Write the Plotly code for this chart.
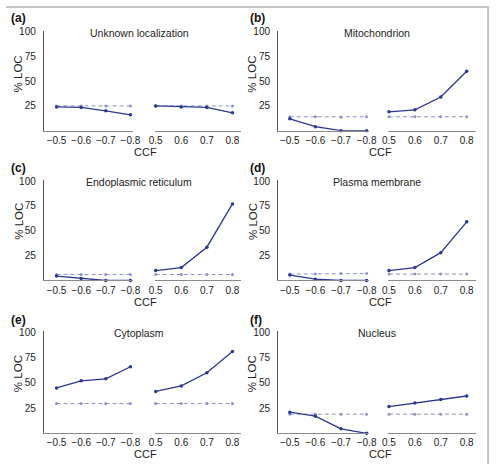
import plotly.graph_objects as go

# ---------------- data ----------------
ccf_neg = [-0.5, -0.6, -0.7, -0.8]
ccf_pos = [0.5, 0.6, 0.7, 0.8]
neg_tick_labels = ["\u22120.5", "\u22120.6", "\u22120.7", "\u22120.8"]
pos_tick_labels = ["0.5", "0.6", "0.7", "0.8"]
y_tick_vals = [25, 50, 75, 100]

letters = ["(a)", "(b)", "(c)", "(d)", "(e)", "(f)"]
titles = ["Unknown localization", "Mitochondrion", "Endoplasmic reticulum",
          "Plasma membrane", "Cytoplasm", "Nucleus"]

unknown_neg = [24, 23.5, 20, 16]
unknown_neg_base = [25, 25, 25, 25]
unknown_pos = [25, 24, 23.5, 18]
unknown_pos_base = [25, 25, 25, 25]

mito_neg = [12, 4, 0, 0]
mito_neg_base = [14, 14, 13.5, 14]
mito_pos = [19, 21, 34, 60]
mito_pos_base = [14, 14, 14, 14]

er_neg = [4.5, 2, 0, 0]
er_neg_base = [6, 6, 6, 6]
er_pos = [10, 13, 33.5, 77]
er_pos_base = [6, 6, 6, 6]

pm_neg = [5.5, 1.3, 0, 0]
pm_neg_base = [6.5, 6.5, 7, 7]
pm_pos = [10, 13, 28, 59]
pm_pos_base = [6.5, 6.5, 6.5, 6.5]

cyto_neg = [45, 52, 54, 66]
cyto_neg_base = [29.5, 29.5, 29.5, 29.5]
cyto_pos = [41.5, 47, 60, 81]
cyto_pos_base = [29.5, 29.5, 29.5, 29.5]

nuc_neg = [21, 17, 4.5, 0]
nuc_neg_base = [19, 19, 19, 19]
nuc_pos = [26.5, 30, 33.5, 37]
nuc_pos_base = [19, 19, 19, 19]

panels = [
    (unknown_neg, unknown_neg_base, unknown_pos, unknown_pos_base),
    (mito_neg, mito_neg_base, mito_pos, mito_pos_base),
    (er_neg, er_neg_base, er_pos, er_pos_base),
    (pm_neg, pm_neg_base, pm_pos, pm_pos_base),
    (cyto_neg, cyto_neg_base, cyto_pos, cyto_pos_base),
    (nuc_neg, nuc_neg_base, nuc_pos, nuc_pos_base),
]

# ---------------- layout geometry (pixels) ----------------
W, H = 499, 464
FONT = "Liberation Sans, Arial, sans-serif"
SOLID = "#2b3890"
DASH = "#8d93c8"
AXIS_Y = "#555555"
AXIS_X = "#8a8a8a"

def fx(px):
    return px / W

def fy(py):
    return 1 - py / H

cols = [
    dict(left=(39, 131), right=(153, 242), lrange=[-0.4487, -0.8118], rrange=[0.4961, 0.8343],
         title_x=137, ylab_x=12.5, ccf_x=144, letter_x=3),
    dict(left=(280, 373), right=(393, 484), lrange=[-0.4544, -0.8076], rrange=[0.4962, 0.8375],
         title_x=382, ylab_x=253.5, ccf_x=385.5, letter_x=249),
]
rows = [
    dict(top=27, bottom=127, letter_y=13, ylab_y=70, ccf_y=149),
    dict(top=178, bottom=278.5, letter_y=165, ylab_y=219, ccf_y=300),
    dict(top=331, bottom=433, letter_y=318, ylab_y=373, ccf_y=454),
]

fig = go.Figure()
layout = dict(
    width=W, height=H,
    margin=dict(l=0, r=0, t=0, b=0),
    paper_bgcolor="white", plot_bgcolor="white",
    showlegend=False,
    font=dict(family=FONT, size=10, color="#222222"),
)
annotations = []

for i, (neg, neg_base, pos, pos_base) in enumerate(panels):
    r, c = divmod(i, 2)
    col, row = cols[c], rows[r]
    ia, ib = 2 * i + 1, 2 * i + 2
    xa_l, ya_l = f"x{ia}", f"y{ia}"
    xa_r, ya_r = f"x{ib}", f"y{ib}"
    ydom = [fy(row["bottom"]), fy(row["top"] - 1)]
    yr = [0, 100 * (row["bottom"] - row["top"] + 1) / (row["bottom"] - row["top"])]

    for xs, ys_base, ys, xa, ya in [(ccf_neg, neg_base, neg, xa_l, ya_l),
                                    (ccf_pos, pos_base, pos, xa_r, ya_r)]:
        fig.add_trace(go.Scatter(
            x=xs, y=ys_base, xaxis=xa, yaxis=ya, mode="lines+markers",
            line=dict(color=DASH, width=1, dash="4px,3px"),
            marker=dict(color=DASH, size=3, symbol="circle"),
            cliponaxis=False, hoverinfo="skip"))
        fig.add_trace(go.Scatter(
            x=xs, y=ys, xaxis=xa, yaxis=ya, mode="lines+markers",
            line=dict(color=SOLID, width=1.3),
            marker=dict(color=SOLID, size=3.5, symbol="circle"),
            cliponaxis=False, hoverinfo="skip"))

    tickfont = dict(family=FONT, size=10, color="#222222")
    layout[f"xaxis{ia}"] = dict(
        domain=[fx(col["left"][0]), fx(col["left"][1])], anchor=ya_l,
        range=col["lrange"], tickmode="array", tickvals=ccf_neg, ticktext=neg_tick_labels,
        showline=True, linecolor=AXIS_X, linewidth=1.2, showgrid=False, zeroline=False,
        ticks="", ticklen=0, tickfont=tickfont, ticklabelstandoff=0, fixedrange=True)
    layout[f"yaxis{ia}"] = dict(
        domain=ydom, anchor=xa_l, range=yr, tickmode="array", tickvals=y_tick_vals,
        showline=True, linecolor=AXIS_Y, linewidth=1.2, showgrid=False, zeroline=False,
        ticks="", ticklen=0, tickfont=tickfont, ticklabelstandoff=5, fixedrange=True)
    layout[f"xaxis{ib}"] = dict(
        domain=[fx(col["right"][0]), fx(col["right"][1])], anchor=ya_r,
        range=col["rrange"], tickmode="array", tickvals=ccf_pos, ticktext=pos_tick_labels,
        showline=True, linecolor=AXIS_X, linewidth=1.2, showgrid=False, zeroline=False,
        ticks="", ticklen=0, tickfont=tickfont, ticklabelstandoff=0, fixedrange=True)
    layout[f"yaxis{ib}"] = dict(
        domain=ydom, anchor=xa_r, range=yr, visible=False, fixedrange=True)

    annotations.append(dict(
        text=f"<b>{letters[i]}</b>", x=fx(col["letter_x"]), y=fy(row["letter_y"]),
        xref="paper", yref="paper", xanchor="left", yanchor="middle", showarrow=False,
        font=dict(family=FONT, size=12, color="#111111")))
    annotations.append(dict(
        text=titles[i], x=fx(col["title_x"]), y=fy(row["top"] + 1),
        xref="paper", yref="paper", xanchor="center", yanchor="middle", showarrow=False,
        font=dict(family=FONT, size=10.5, color="#222222")))
    annotations.append(dict(
        text="% LOC", x=fx(col["ylab_x"]), y=fy(row["ylab_y"]), textangle=-90,
        xref="paper", yref="paper", xanchor="center", yanchor="middle", showarrow=False,
        font=dict(family=FONT, size=11.5, color="#222222")))
    annotations.append(dict(
        text="CCF", x=fx(col["ccf_x"]), y=fy(row["ccf_y"]),
        xref="paper", yref="paper", xanchor="center", yanchor="middle", showarrow=False,
        font=dict(family=FONT, size=11, color="#222222")))

layout["annotations"] = annotations
layout["shapes"] = [
    dict(type="line", xref="paper", yref="paper", x0=0, x1=fx(497), y0=fy(2), y1=fy(2),
         line=dict(color="#c4c4c4", width=2)),
    dict(type="line", xref="paper", yref="paper", x0=fx(496), x1=fx(496), y0=0, y1=fy(1),
         line=dict(color="#c4c4c4", width=2)),
]
fig.update_layout(**layout)
fig.write_html("out.html")
